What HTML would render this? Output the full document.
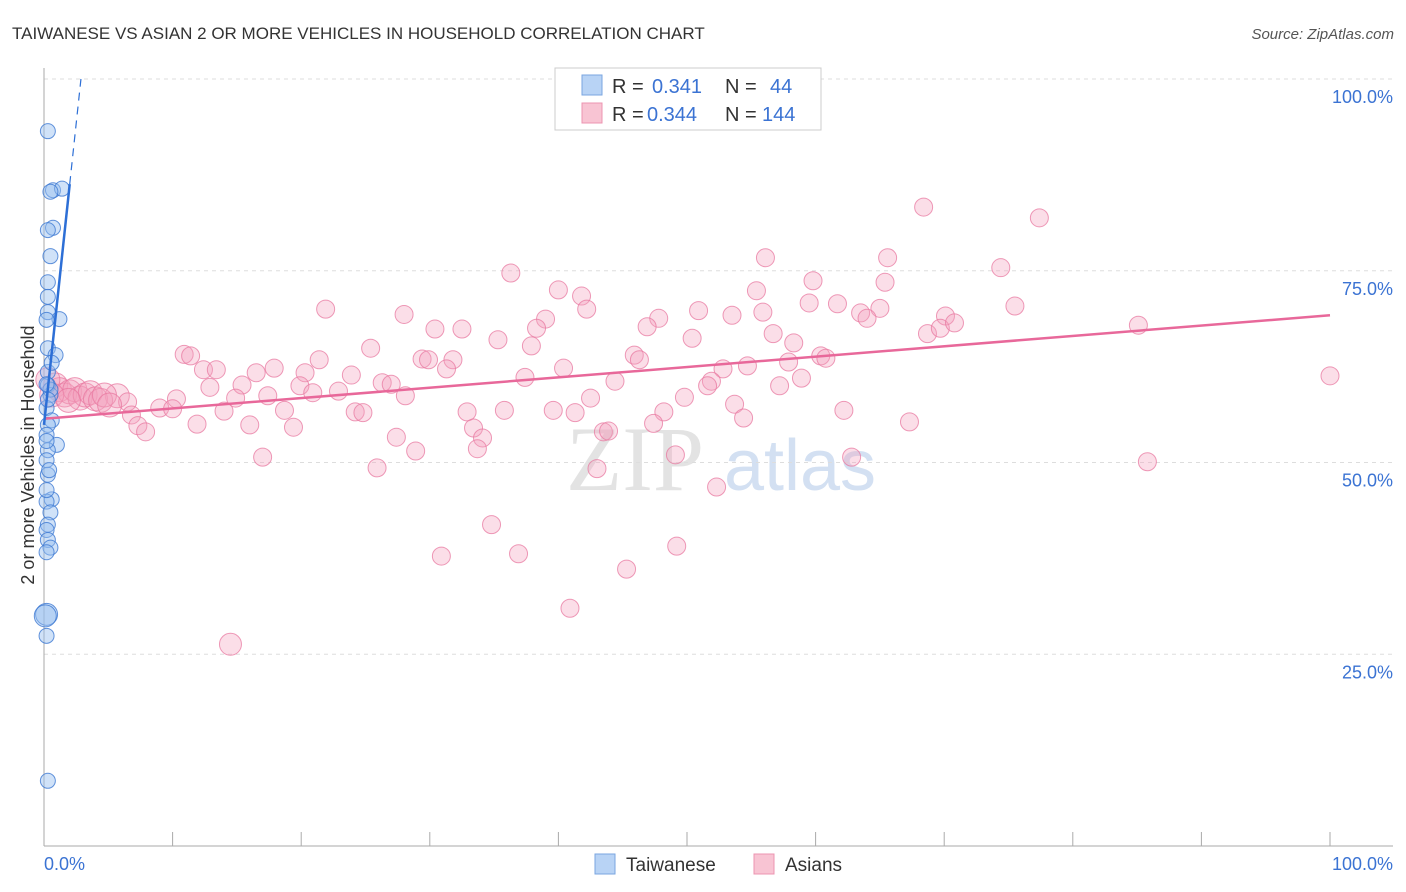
<!DOCTYPE html>
<html><head><meta charset="utf-8">
<style>
body{margin:0;background:#fff;font-family:"Liberation Sans",sans-serif;}
svg{display:block}
</style></head>
<body>
<svg id="chart" width="1406" height="892">
<text x="12" y="39" font-size="17" fill="#333">TAIWANESE VS ASIAN 2 OR MORE VEHICLES IN HOUSEHOLD CORRELATION CHART</text>
<text x="1394" y="39" font-size="15" fill="#555" font-style="italic" text-anchor="end">Source: ZipAtlas.com</text>
<text transform="translate(34,455) rotate(-90)" font-size="18" fill="#333" text-anchor="middle">2 or more Vehicles in Household</text>
<g>
<text x="635" y="490" font-size="92" fill="#ddd" font-family="Liberation Serif" text-anchor="middle" opacity="0.8">ZIP</text>
<text x="800" y="490" font-size="72" fill="#c9d9ef" text-anchor="middle" opacity="0.8">atlas</text>
</g>
<g id="grid"></g>
<g id="axes"></g>
<g id="pts"></g>
<g id="lines"></g>
<g>
<rect x="555" y="68" width="266" height="62" fill="#fff" stroke="#ccc"/>
<rect x="582" y="75" width="20" height="20" fill="#b8d3f5" stroke="#7aa6e0"/>
<rect x="582" y="103" width="20" height="20" fill="#f8c4d3" stroke="#ec94b0"/>
<text x="612" y="93" font-size="20" fill="#333">R = </text><text x="652" y="93" font-size="20" fill="#3b73d3">0.341</text>
<text x="725" y="93" font-size="20" fill="#333">N = </text><text x="770" y="93" font-size="20" fill="#3b73d3">44</text>
<text x="612" y="121" font-size="20" fill="#333">R = </text><text x="647" y="121" font-size="20" fill="#3b73d3">0.344</text>
<text x="725" y="121" font-size="20" fill="#333">N = </text><text x="762" y="121" font-size="20" fill="#3b73d3">144</text>
</g>
<g>
<rect x="595" y="854" width="20" height="20" fill="#b8d3f5" stroke="#7aa6e0"/>
<text x="626" y="871" font-size="19" fill="#333">Taiwanese</text>
<rect x="754" y="854" width="20" height="20" fill="#f8c4d3" stroke="#ec94b0"/>
<text x="785" y="871" font-size="19" fill="#333">Asians</text>
</g>
</svg>
<script>
const yTicks=[25,50,75,100];
const yTickLabels=["25.0%","50.0%","75.0%","100.0%"];
const xTickLabels=["0.0%","100.0%"];
const blueX=[0.3,0.7,1.4,0.5,0.7,0.3,0.5,0.3,0.3,0.3,1.2,0.2,0.3,0.9,0.3,0.3,0.5,0.2,0.6,0.3,0.2,1.0,0.3,0.2,0.3,0.6,0.2,0.5,0.3,0.2,0.3,0.5,0.2,0.2,0.2,0.3,0.5,0.2,0.3,0.2,0.4,0.2,0.1,0.6];
const blueY=[93.2,85.5,85.7,85.3,80.6,80.3,76.9,73.5,71.6,69.6,68.7,68.6,64.9,64.0,61.8,60.1,58.8,57.1,55.5,54.9,53.6,52.3,51.6,50.3,48.4,45.2,44.9,43.5,41.9,41.2,39.9,38.9,38.3,30.2,27.4,8.5,59.5,60.2,58.2,52.8,49.0,46.4,30.0,63.0];
const pinkX=[77.4,68.4,74.4,56.1,36.3,65.6,59.8,65.4,40.0,41.8,55.4,28.0,21.9,42.2,50.9,53.5,55.9,59.5,61.7,63.5,65.0,70.1,75.5,85.1,30.4,32.5,39.0,38.3,47.8,46.9,50.4,56.7,58.3,64.0,68.7,69.7,70.8,35.3,37.9,25.4,10.9,11.4,21.4,29.4,29.9,31.8,31.3,40.4,45.9,46.3,60.4,60.8,52.8,54.7,57.9,17.9,12.4,13.4,20.3,23.9,16.5,26.3,27.0,37.4,44.4,51.9,51.6,58.9,12.9,15.4,19.9,20.9,22.9,28.1,17.4,10.3,14.9,5.7,6.5,42.5,49.8,57.2,100,9.0,10.0,18.7,14.0,24.2,24.8,32.9,35.8,39.6,41.3,48.2,53.7,54.4,62.2,6.8,7.3,7.9,11.9,16.0,19.4,33.4,34.1,43.5,43.9,47.4,27.4,28.9,33.7,49.1,62.8,67.3,85.8,17.0,25.9,43.0,52.3,34.8,30.9,36.9,45.3,49.2,40.9,14.5,0.9,1.2,1.6,2.0,2.4,2.8,3.2,3.6,4.0,4.4,4.7,5.1,0.3,0.6,1.9];
const pinkY=[81.9,83.3,75.4,76.7,74.7,76.7,73.7,73.5,72.5,71.7,72.4,69.3,70.0,70.0,69.8,69.2,69.6,70.8,70.7,69.5,70.1,69.1,70.4,67.9,67.4,67.4,68.7,67.5,68.8,67.7,66.2,66.8,65.6,68.8,66.8,67.5,68.2,66.0,65.2,64.9,64.1,63.9,63.4,63.5,63.4,63.4,62.2,62.3,64.0,63.4,63.9,63.6,62.2,62.6,63.1,62.3,62.1,62.1,61.7,61.4,61.7,60.4,60.2,61.1,60.6,60.6,60.0,61.0,59.8,60.1,60.0,59.1,59.3,58.7,58.7,58.3,58.4,58.7,57.9,58.4,58.5,60.0,61.3,57.1,57.0,56.8,56.7,56.6,56.5,56.6,56.8,56.8,56.5,56.6,57.6,55.8,56.8,56.2,54.8,54.0,55.0,54.9,54.6,54.5,53.2,54.0,54.1,55.1,53.3,51.5,51.8,51.0,50.7,55.3,50.1,50.7,49.3,49.2,46.8,41.9,37.8,38.1,36.1,39.1,31.0,26.3,60.1,59.5,58.8,59.2,59.5,58.4,58.8,59.1,58.3,58.1,58.8,57.5,60.8,58.8,58.1];
const blueTrend=[54.9,15.7];
const pinkTrend=[55.7,0.135];
const NS="http://www.w3.org/2000/svg";
const X=v=>44+v*12.86, Y=v=>846-v*7.67;
function mk(t,a,p){const e=document.createElementNS(NS,t);for(const k in a)e.setAttribute(k,a[k]);p.appendChild(e);return e;}
const grid=document.getElementById('grid'),axes=document.getElementById('axes'),pts=document.getElementById('pts'),lines=document.getElementById('lines');
yTicks.forEach((t,i)=>{
 const l=mk('line',{x1:44,x2:1393,y1:Y(t),y2:Y(t),stroke:'#ddd','stroke-dasharray':'4,4'},grid);
 
 
 const tx=mk('text',{x:1393,y:Y(t)+24,'font-size':18,fill:'#3b73d3','text-anchor':'end'},axes);
 tx.textContent=yTickLabels[i];
 
 
});
const ya=mk('line',{x1:44,x2:44,y1:68,y2:846,stroke:'#aaa'},axes);


const xa=mk('line',{x1:44,x2:1393,y1:846,y2:846,stroke:'#aaa'},axes);


for(let i=0;i<=10;i++){const t=mk('line',{x1:X(i*10),x2:X(i*10),y1:846,y2:832,stroke:'#aaa'},axes);
 
 }
[[0,'start',44],[100,'end',1393]].forEach((d,i)=>{const t=mk('text',{x:d[2],y:870,'font-size':18,fill:'#3b73d3','text-anchor':d[1]},axes);t.textContent=xTickLabels[i];
 
 });
pinkX.forEach((x,i)=>{const c=mk('circle',{cx:X(x),cy:Y(pinkY[i]),r:x<6?12:(pinkY[i]<28?11:9),fill:'rgba(244,160,188,0.35)',stroke:'rgba(232,120,160,0.75)','stroke-width':1},pts);
 
 });
blueX.forEach((x,i)=>{const c=mk('circle',{cx:X(x),cy:Y(blueY[i]),r:blueY[i]>29&&blueY[i]<31?11:7.5,fill:'rgba(150,190,240,0.45)',stroke:'rgba(60,120,210,0.8)','stroke-width':1},pts);
 
 });
const pl=mk('line',{x1:X(0),y1:Y(pinkTrend[0]),x2:X(100),y2:Y(pinkTrend[0]+pinkTrend[1]*100),stroke:'#e8689a','stroke-width':2.5},lines);


const bx2=2.0,bx3=(100-blueTrend[0])/blueTrend[1];
const bl=mk('line',{x1:X(0),y1:Y(blueTrend[0]),x2:X(bx2),y2:Y(blueTrend[0]+blueTrend[1]*bx2),stroke:'#2d6fd6','stroke-width':2.5},lines);


const bd=mk('line',{x1:X(bx2),y1:Y(blueTrend[0]+blueTrend[1]*bx2),x2:X(bx3),y2:Y(100),stroke:'#2d6fd6','stroke-width':1.2,'stroke-dasharray':'8,6'},lines);


</script>
</body></html>
